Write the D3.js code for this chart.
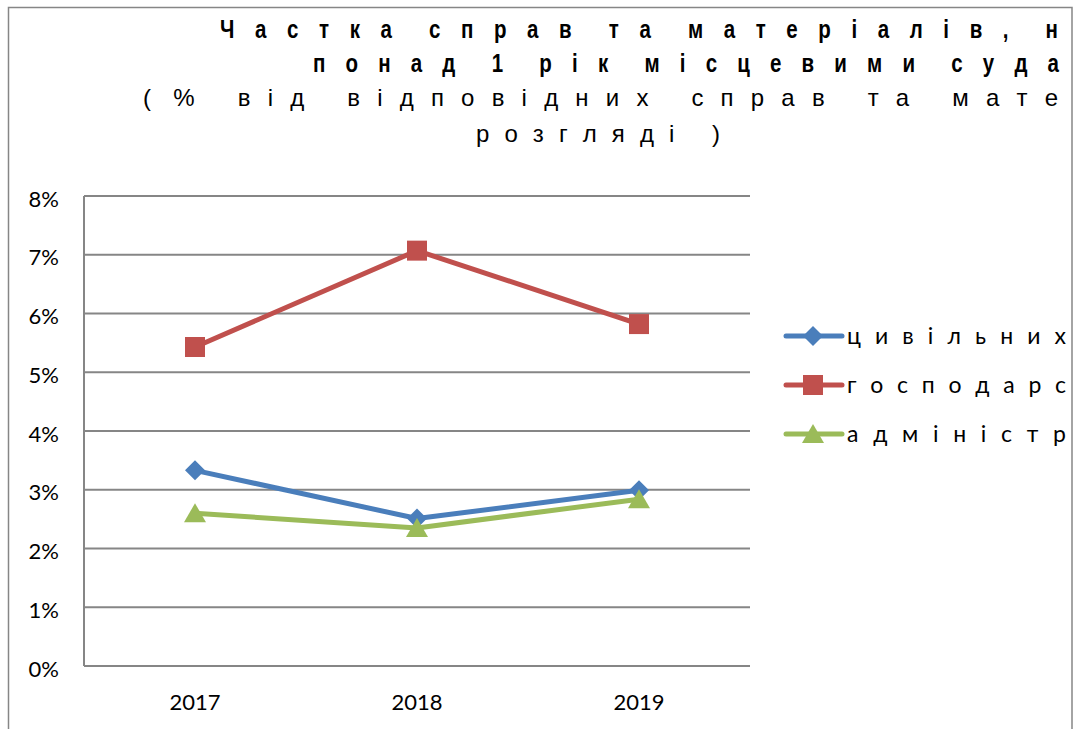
<!DOCTYPE html>
<html lang="uk">
<head>
<meta charset="UTF-8">
<title>Частка справ та матеріалів</title>
<script src="https://d3js.org/d3.v7.min.js"></script>
<style>
  html, body { margin: 0; padding: 0; background: #fff; }
  svg { display: block; }
  .title-bold { font-family: "Liberation Sans", Arial, sans-serif; font-weight: bold; font-size: 25px; fill: #000; }
  .title-reg { font-family: "Liberation Sans", Arial, sans-serif; font-size: 24px; fill: #000; }
  .tick-label { font-family: Lato, "Open Sans", sans-serif; font-size: 22px; fill: #000; }
  .legend-label { font-family: Lato, "Open Sans", sans-serif; font-size: 23px; fill: #000; }
</style>
</head>
<body>
<svg id="chart" width="1073" height="729"></svg>
<script>
// ---- дані ----
const years = ["2017", "2018", "2019"];
const seriesNames = ["цивільних", "господарс", "адміністр"];
const civilValues = [0.0333, 0.0251, 0.0299];
const commercialValues = [0.0543, 0.0707, 0.0582];
const adminValues = [0.0260, 0.0235, 0.0284];
const yTicks = [0, 0.01, 0.02, 0.03, 0.04, 0.05, 0.06, 0.07, 0.08];
const titleLines = [
  "Частка справ та матеріалів, н",
  "понад 1 рік місцевими суда",
  "( % від відповідних справ та мате",
  "розгляді )"
];

const colors = ["#4a7ebb", "#c0504d", "#9bbb59"];
const markers = ["diamond", "square", "triangle"];
const series = [civilValues, commercialValues, adminValues].map((vals, i) => ({
  name: seriesNames[i], color: colors[i], marker: markers[i],
  points: years.map((y, j) => ({ year: y, value: vals[j] }))
}));

// ---- розмітка ----
const svg = d3.select("#chart");
const plot = { left: 84, right: 750, top: 196, bottom: 666 };

const x = d3.scaleBand().domain(years).range([plot.left, plot.right]);
const y = d3.scaleLinear().domain([0, 0.08]).range([plot.bottom, plot.top]);
const cx = d => x(d) + x.bandwidth() / 2;

// рамка
svg.append("rect")
  .attr("x", 8.5).attr("y", 7.5).attr("width", 1063.5).attr("height", 740)
  .attr("fill", "none").attr("stroke", "#868686").attr("stroke-width", 1.5);

// розрядка: кожна літера ставиться окремо, між словами проміжок ширший
// (після відкритої дужки — вужчий)
function spacedLine(g, str, cls, x0, x1, baseline, sx, wordFactor) {
  const chars = Array.from(str);
  const probe = g.append("text").attr("class", cls);
  const adv = chars.map(c => c === " " ? 0 : probe.text(c).node().getComputedTextLength());
  probe.remove();
  const gapFactor = i => (chars[i - 1] === "(" ? 1.3 : wordFactor);
  let units = 0;
  chars.forEach((c, i) => {
    if (i === 0 || c === " ") return;
    units += chars[i - 1] === " " ? gapFactor(i - 1) : 1;
  });
  const target = (x1 - x0) / sx;
  const ls = (target - d3.sum(adv)) / units;
  const xs = [];
  let pos = 0;
  chars.forEach((c, i) => {
    if (c === " ") { xs.push(pos); return; }
    if (i > 0) pos += chars[i - 1] === " " ? ls * gapFactor(i - 1) : ls;
    xs.push(pos);
    pos += adv[i];
  });
  g.append("text")
    .attr("class", cls)
    .attr("transform", `translate(${x0},${baseline}) scale(${sx},1)`)
    .attr("x", xs.map(v => v.toFixed(2)).join(" "))
    .attr("y", 0)
    .text(str);
}

// заголовок
const titleG = svg.append("g");
const titleSpec = [
  { x0: 220, x1: 1058, y: 38, cls: "title-bold", sx: 0.82, wf: 1.8 },
  { x0: 313, x1: 1059, y: 72, cls: "title-bold", sx: 0.82, wf: 1.8 },
  { x0: 143, x1: 1058, y: 106, cls: "title-reg", sx: 1, wf: 2.5 },
  { x0: 476, x1: 720, y: 142, cls: "title-reg", sx: 1, wf: 2.5 }
];
titleLines.forEach((t, i) => {
  const s = titleSpec[i];
  spacedLine(titleG, t, s.cls, s.x0, s.x1, s.y, s.sx, s.wf);
});

// сітка
svg.append("g")
  .selectAll("line")
  .data(yTicks)
  .join("line")
  .attr("x1", plot.left).attr("x2", plot.right)
  .attr("y1", d => y(d)).attr("y2", d => y(d))
  .attr("stroke", "#868686").attr("stroke-width", 2);

// вісь Y
svg.append("line")
  .attr("x1", plot.left).attr("x2", plot.left)
  .attr("y1", plot.top).attr("y2", plot.bottom)
  .attr("stroke", "#868686").attr("stroke-width", 2);

svg.append("g")
  .selectAll("text")
  .data(yTicks)
  .join("text")
  .attr("class", "tick-label")
  .attr("x", 59).attr("y", d => y(d) + 2)
  .attr("text-anchor", "end")
  .attr("dominant-baseline", "central")
  .text(d3.format(".0%"));

// вісь X
svg.append("g")
  .selectAll("text")
  .data(years)
  .join("text")
  .attr("class", "tick-label")
  .attr("x", d => cx(d)).attr("y", 701)
  .attr("text-anchor", "middle")
  .attr("dominant-baseline", "central")
  .text(d => d);

// маркери
function markerPath(type) {
  if (type === "diamond") return "M0,-10L10,0L0,10L-10,0Z";
  if (type === "square") return "M-10,-10H10V10H-10Z";
  return "M0,-10L11,9H-11Z";
}

const line = d3.line().x(d => cx(d.year)).y(d => y(d.value));

series.forEach(s => {
  const g = svg.append("g");
  g.append("path")
    .attr("d", line(s.points))
    .attr("fill", "none")
    .attr("stroke", s.color)
    .attr("stroke-width", 5)
    .attr("stroke-linejoin", "round");
  g.selectAll("path.m")
    .data(s.points)
    .join("path")
    .attr("class", "m")
    .attr("d", markerPath(s.marker))
    .attr("transform", d => `translate(${cx(d.year)},${y(d.value)})`)
    .attr("fill", s.color);
});

// легенда
const legendRows = [336, 385, 434];
const legend = svg.append("g");
series.forEach((s, i) => {
  const ly = legendRows[i];
  legend.append("line")
    .attr("x1", 786).attr("x2", 842)
    .attr("y1", ly).attr("y2", ly)
    .attr("stroke", s.color).attr("stroke-width", 5)
    .attr("stroke-linecap", "round");
  legend.append("path")
    .attr("d", markerPath(s.marker))
    .attr("transform", `translate(813,${ly})`)
    .attr("fill", s.color);
  spacedLine(legend, s.name, "legend-label", 847, 1066, ly + 8, 1, 2);
});
</script>
</body>
</html>
